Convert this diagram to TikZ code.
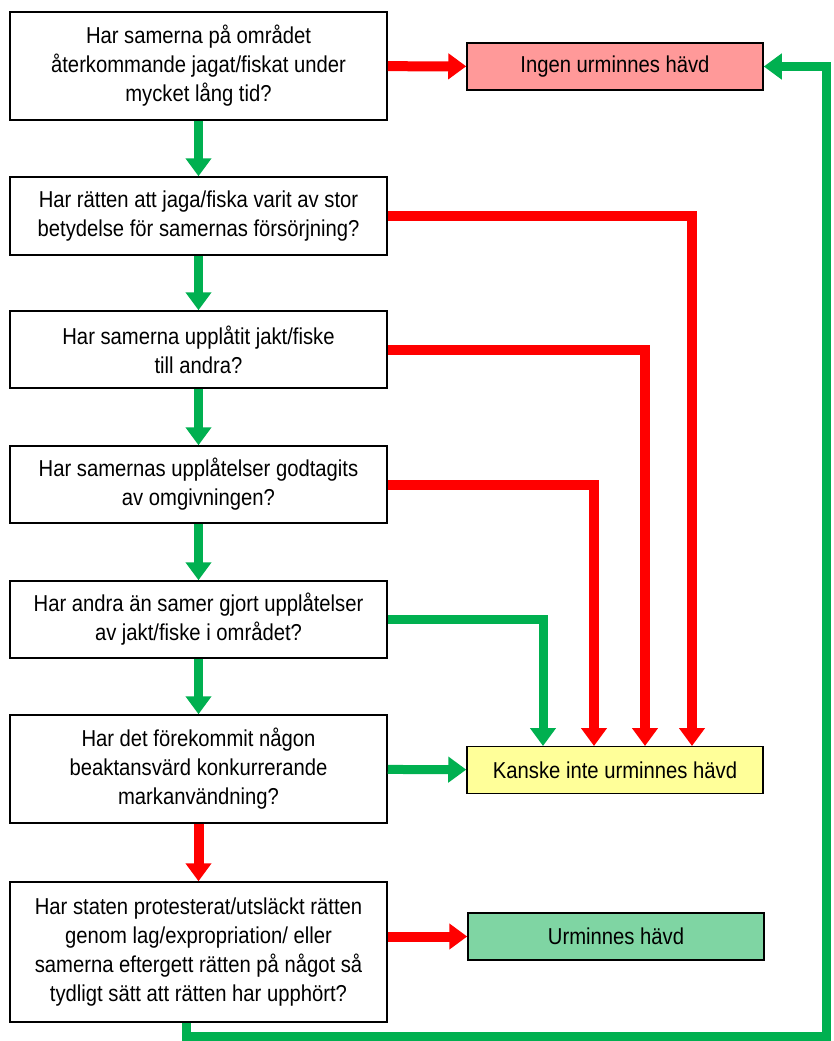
\documentclass[tikz,border=0pt]{standalone}
\usepackage{fontspec}
\setmainfont[FakeStretch=0.88]{Liberation Sans}
\usetikzlibrary{arrows.meta}
\usetikzlibrary{positioning}

\definecolor{ared}{RGB}{255,0,0}
\definecolor{agreen}{RGB}{0,176,80}
\definecolor{pinkfill}{RGB}{255,153,153}
\definecolor{yellowfill}{RGB}{255,255,153}
\definecolor{greenfill}{RGB}{127,213,163}

\begin{document}
\begin{tikzpicture}[x=1pt,y=-1pt]
	%\draw[help lines] (0,0) grid (833,1041);
	\useasboundingbox (0,0) rectangle (833,1041);

	\tikzstyle{qnode} = [rectangle,draw,line width=1.5pt,fill=white,minimum width=377pt,align=center,inner sep=0pt,font=\fontsize{23}{29}\selectfont]
	\tikzstyle{anode} = [rectangle,draw,line width=1.5pt,minimum width=296pt,minimum height=47pt,inner sep=0pt,font=\fontsize{23}{29}\selectfont]
	\tikzstyle{gedge} = [-{Triangle[width=25pt,length=18pt]},line width=9pt,draw=agreen,line join=miter]
	\tikzstyle{redge} = [-{Triangle[width=25pt,length=18pt]},line width=10pt,draw=ared,line join=miter]

	\node[qnode,minimum height=108pt] (q1) at (198.5, 66) {Har samerna på området\\återkommande jagat/fiskat under\\mycket lång tid?};
	\node[qnode,minimum height=78pt] (q2) at (198.5, 216) {Har rätten att jaga/fiska varit av stor\\betydelse för samernas försörjning?};
	\node[qnode,minimum height=77pt] (q3) at (198.5, 349.5) {Har samerna upplåtit jakt/fiske\\till andra?};
	\node[qnode,minimum height=77pt] (q4) at (198.5, 484.5) {Har samernas upplåtelser godtagits\\av omgivningen?};
	\node[qnode,minimum height=77pt] (q5) at (198.5, 619.5) {Har andra än samer gjort upplåtelser\\av jakt/fiske i området?};
	\node[qnode,minimum height=108pt] (q6) at (198.5, 769) {Har det förekommit någon\\beaktansvärd konkurrerande\\markanvändning?};
	\node[qnode,minimum height=140pt] (q7) at (198.5, 952) {Har staten protesterat/utsläckt rätten\\genom lag/expropriation/ eller\\samerna eftergett rätten på något så\\tydligt sätt att rätten har upphört?};

	\node[anode,fill=pinkfill] (ingen) at (615, 66.5) {Ingen urminnes hävd};
	\node[anode,fill=yellowfill] (kanske) at (615, 770) {Kanske inte urminnes hävd};
	\node[anode,fill=greenfill] (urm) at (616, 936.5) {Urminnes hävd};

	\coordinate (k1) at (543, 746);
	\coordinate (k2) at (594, 746);
	\coordinate (k3) at (645, 746);
	\coordinate (k4) at (692, 746);
	\coordinate (l1) at (186, 1036);
	\coordinate (l2) at (826, 1036);

	\draw (q1) edge [gedge] (q2);
	\draw (q2) edge [gedge] (q3);
	\draw (q3) edge [gedge] (q4);
	\draw (q4) edge [gedge] (q5);
	\draw (q5) edge [gedge] (q6);
	\draw (q6) edge [redge] (q7);

	\draw (q1) edge [redge] (ingen);
	\draw (q6) edge [gedge] (kanske);
	\draw (urm.west -| q7.east) edge [redge] (urm.west);

	\draw[redge] (q2.east) -| (k4);
	\draw[redge] (q3.east) -| (k3);
	\draw[redge] (q4.east) -| (k2);
	\draw[gedge] (q5.east) -| (k1);

	\draw[gedge] (q7.south -| l1) -- (l1) -- (l2) |- (ingen.east);

\end{tikzpicture}
\end{document}
